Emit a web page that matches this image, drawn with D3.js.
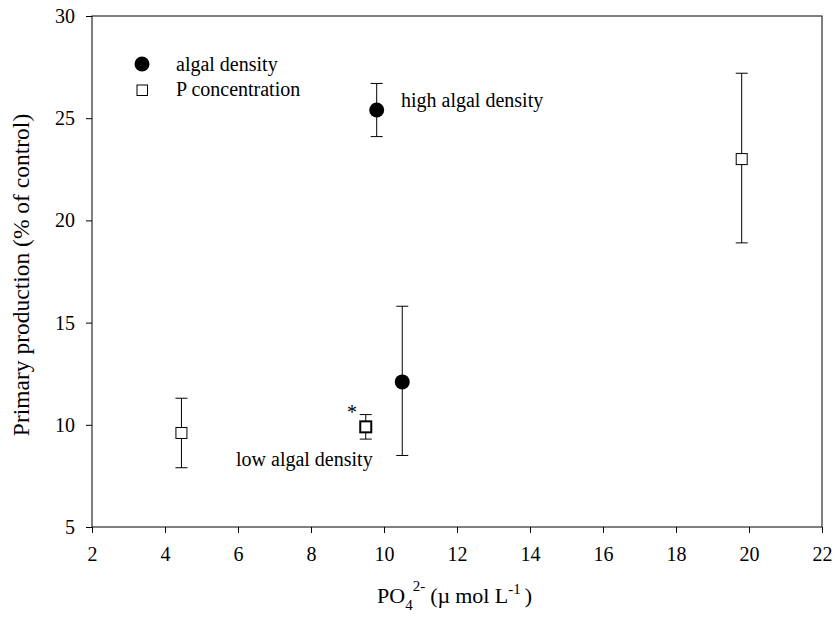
<!DOCTYPE html>
<html>
<head>
<meta charset="utf-8">
<script src="https://cdn.jsdelivr.net/npm/d3@7"></script>
<style>
  body { margin: 0; background: #fff; }
</style>
</head>
<body>
<svg width="840" height="619"></svg>
<script>
const xTicks = [2, 4, 6, 8, 10, 12, 14, 16, 18, 20, 22];
const yTicks = [5, 10, 15, 20, 25, 30];

// algal density (filled circles)
const algalX = [9.8, 10.5];
const algalY = [25.4, 12.1];
const algalLo = [24.1, 8.5];
const algalHi = [26.7, 15.8];

// P concentration (open squares)
const pX = [4.45, 9.5, 19.8];
const pY = [9.6, 9.9, 23.0];
const pLo = [7.9, 9.3, 18.9];
const pHi = [11.3, 10.5, 27.2];

const FONT = "'Liberation Serif', 'Times New Roman', serif";

const svg = d3.select("svg").attr("font-family", FONT);

const scaleX = d3.scaleLinear().domain([2, 22]).range([92, 822]);
const scaleY = d3.scaleLinear().domain([5, 30]).range([527, 16]);

// frame
svg.append("rect")
  .attr("x", 92).attr("y", 16)
  .attr("width", 730).attr("height", 511)
  .attr("fill", "none").attr("stroke", "#000").attr("stroke-width", 1);

const axisX = d3.axisBottom(scaleX).tickValues(xTicks).tickSizeInner(6).tickSizeOuter(0).tickPadding(14);
const axisY = d3.axisLeft(scaleY).tickValues(yTicks).tickSizeInner(6).tickSizeOuter(0).tickPadding(11);

const gx = svg.append("g").attr("transform", "translate(0,527)").call(axisX);
const gy = svg.append("g").attr("transform", "translate(92,0)").call(axisY);
[gx, gy].forEach(g => {
  g.attr("font-family", FONT).attr("font-size", 20);
  g.select(".domain").remove();
  g.selectAll("text").attr("fill", "#000");
});

// error bars
const drawErr = function(xs, lo, hi) {
  const g = svg.append("g").attr("stroke", "#000").attr("stroke-width", 1);
  xs.forEach((x, i) => {
    const px = scaleX(x);
    g.append("line").attr("x1", px).attr("x2", px).attr("y1", scaleY(lo[i])).attr("y2", scaleY(hi[i]));
    g.append("line").attr("x1", px - 6).attr("x2", px + 6).attr("y1", scaleY(lo[i])).attr("y2", scaleY(lo[i]));
    g.append("line").attr("x1", px - 6).attr("x2", px + 6).attr("y1", scaleY(hi[i])).attr("y2", scaleY(hi[i]));
  });
};
drawErr(algalX, algalLo, algalHi);
drawErr(pX, pLo, pHi);

svg.selectAll("circle.algal")
  .data(algalX)
  .enter()
  .append("circle")
  .attr("class", "algal")
  .attr("cx", (d) => scaleX(d))
  .attr("cy", (d, i) => scaleY(algalY[i]))
  .attr("r", 7.5)
  .attr("fill", "#000");

svg.selectAll("rect.pconc")
  .data(pX)
  .enter()
  .append("rect")
  .attr("class", "pconc")
  .attr("x", (d) => scaleX(d) - 5.5)
  .attr("y", (d, i) => scaleY(pY[i]) - 5.5)
  .attr("width", 11)
  .attr("height", 11)
  .attr("fill", "#fff")
  .attr("stroke", "#000")
  .attr("stroke-width", (d, i) => (i === 1 ? 2 : 1));

// legend
svg.append("circle").attr("cx", 142).attr("cy", 64).attr("r", 7.5).attr("fill", "#000");
svg.append("rect").attr("x", 137).attr("y", 85).attr("width", 10.5).attr("height", 10.5)
  .attr("fill", "#fff").attr("stroke", "#000");
svg.append("text").attr("x", 176).attr("y", 71).attr("font-size", 20).text("algal density");
svg.append("text").attr("x", 176).attr("y", 96).attr("font-size", 20).text("P concentration");

// annotations
svg.append("text").attr("x", 401).attr("y", 107).attr("font-size", 20).text("high algal density");
svg.append("text").attr("x", 236).attr("y", 466).attr("font-size", 20).text("low algal density");
svg.append("text").attr("x", 347).attr("y", 419).attr("font-size", 20).text("*");

// axis titles
svg.append("text")
  .attr("transform", "translate(29,275) rotate(-90)")
  .attr("text-anchor", "middle")
  .attr("font-size", 23.5)
  .text("Primary production (% of control)");

const xt = svg.append("text")
  .attr("x", 377).attr("y", 603)
  .attr("font-size", 22);
xt.append("tspan").text("PO");
xt.append("tspan").attr("font-size", 15).attr("dy", 7).text("4");
xt.append("tspan").attr("font-size", 15).attr("dy", -19).text("2-");
xt.append("tspan").attr("dy", 12).attr("dx", 5).text("(\u00b5");
xt.append("tspan").attr("dx", 5).text("mol L");
xt.append("tspan").attr("font-size", 15).attr("dy", -9).text("-1");
xt.append("tspan").attr("dy", 9).attr("dx", 4).text(")");
</script>
</body>
</html>
